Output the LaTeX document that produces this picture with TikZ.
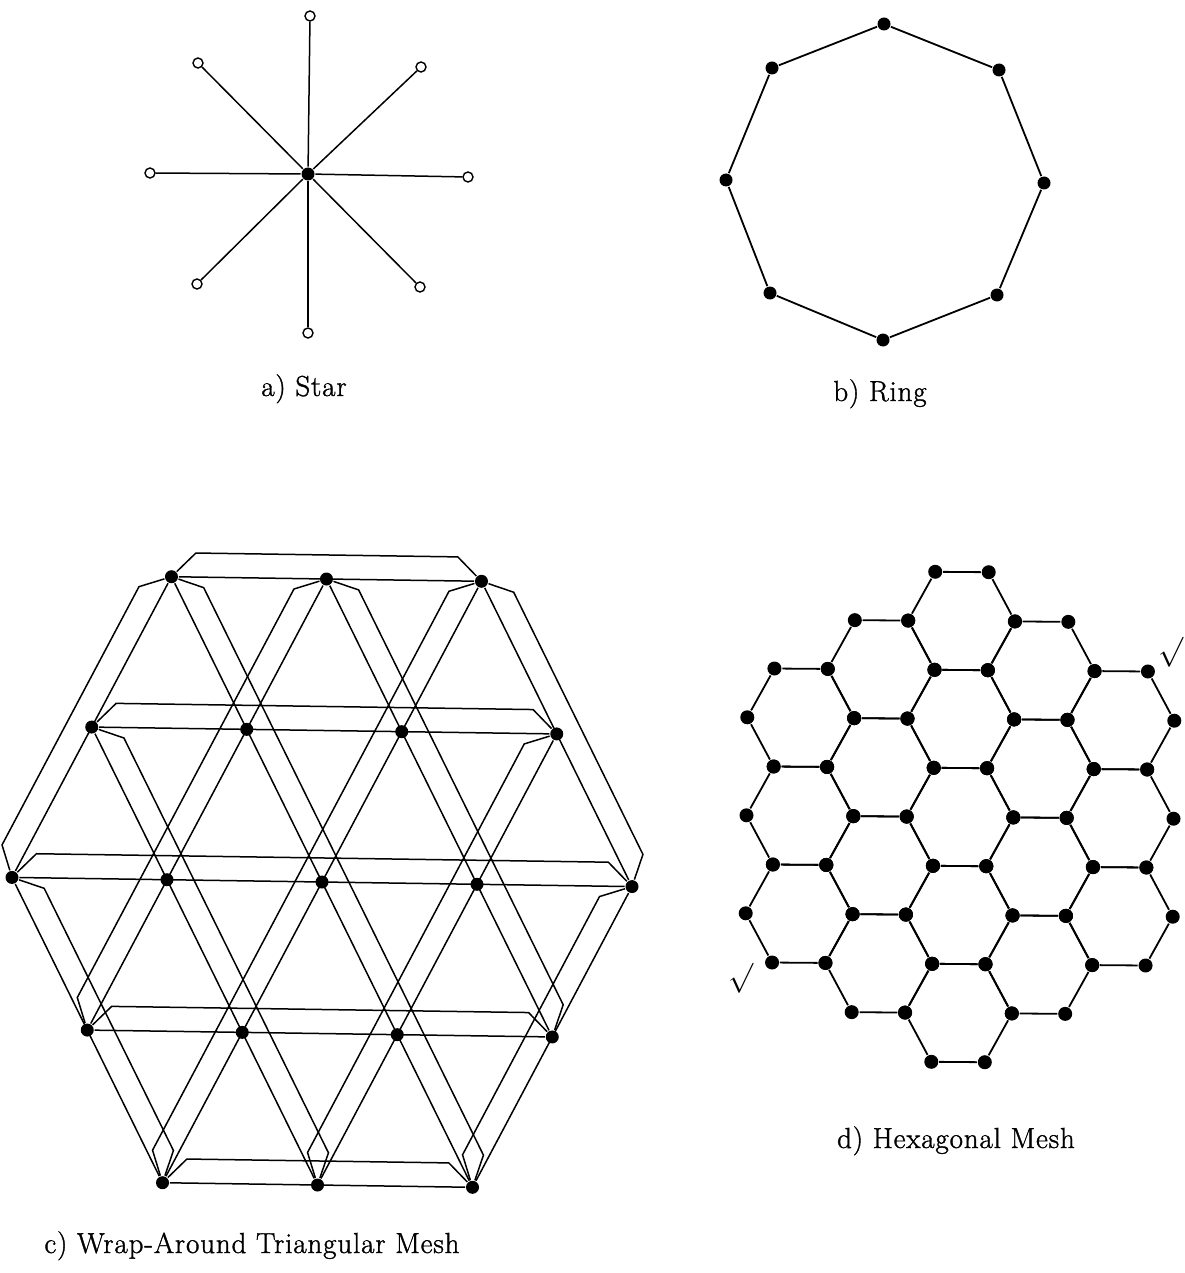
\documentclass[tikz,border=0pt]{standalone}
\usepackage{amsmath}
\usepackage{amssymb}
\usepackage{graphicx}
\usepackage{fontspec}
\usepackage{tikz}
\usetikzlibrary{calc}

\newfontfamily\capfont{Latin Modern Roman}[FakeBold=1.2,LetterSpace=3]

\tikzset{
  pe/.style={circle,fill=black,inner sep=0pt,minimum size=13pt},
  leaf/.style={circle,draw=black,fill=white,line width=1.4pt,inner sep=0pt,minimum size=10pt},
  caption/.style={font=\capfont\fontsize{29}{34}\selectfont,anchor=base},
  wrap/.style={line width=1.5pt},
}

\begin{document}
\begin{tikzpicture}[x=1pt,y=-1pt,line width=1.8pt]
    \useasboundingbox (0,0) rectangle (1184,1273);

    % a) star
    \node[pe] (s) at (308,174) {};
    \node[leaf] (s1) at (310,16) {};
    \node[leaf] (s2) at (421,67) {};
    \node[leaf] (s3) at (468,177) {};
    \node[leaf] (s4) at (420,287) {};
    \node[leaf] (s5) at (308,333) {};
    \node[leaf] (s6) at (197,284) {};
    \node[leaf] (s7) at (150,173) {};
    \node[leaf] (s8) at (198,63) {};
    \foreach \n in {1,...,8} \draw[line width=1.5pt] (s) -- (s\n);
    \node[caption] (la) at (304,396) {a) Star};

    % b) ring
    \node[pe] (r1) at (884,24) {};
    \node[pe] (r2) at (999,70) {};
    \node[pe] (r3) at (1044,183) {};
    \node[pe] (r4) at (997,295) {};
    \node[pe] (r5) at (883,340) {};
    \node[pe] (r6) at (770,293) {};
    \node[pe] (r7) at (726,180) {};
    \node[pe] (r8) at (772,68) {};
    \draw (r1) -- (r2) -- (r3) -- (r4) -- (r5) -- (r6) -- (r7) -- (r8) -- (r1);
    \node[caption] (lb) at (880,401) {b) Ring};

    % c) wrap-around triangular mesh
    \foreach \i in {0,...,4}
      \foreach \j in {0,...,4} {
        \pgfmathtruncatemacro\sm{\i+\j}
        \ifnum\sm>1 \ifnum\sm<7
          \pgfmathsetmacro\dx{155*(\i-2)+77.5*(\j-2)}
          \pgfmathsetmacro\dy{151.5*(\j-2)}
          \node[pe] (t\i\j) at ({322+\dx-0.0148*\dy},{882+\dy+0.0148*\dx}) {};
        \fi\fi
      }
    \foreach \a/\b in {20/40,11/41,02/42,03/33,04/24,
                       02/04,11/14,20/24,30/33,40/42,
                       02/20,03/30,04/40,14/41,24/42} {
      \draw[wrap] (t\a) -- (t\b);
      \draw[wrap] (t\a) -- ($(t\a)!34pt!45:(t\b)$) -- ($(t\b)!34pt!-45:(t\a)$) -- (t\b);
    }
    \node[caption] (lc) at (252,1253) {c) Wrap-Around Triangular Mesh};

    % d) hexagonal mesh
    \foreach \q in {0,...,4} {
      \pgfmathtruncatemacro\nn{4-abs(\q-2)}
      \foreach \j in {0,...,\nn} {
        \pgfmathsetmacro\cx{960+80*(\q-2)}
        \pgfmathsetmacro\cy{817+49*(2*\j-\nn)}
        \foreach \w/\ox/\oy in {1/-53.5/0,2/-26.75/-49,3/26.75/-49,
                                4/53.5/0,5/26.75/49,6/-26.75/49}
          \node[pe,minimum size=14pt] (h\q\j\w)
            at ({\cx+\ox-0.008*(\cy+\oy-817)},{\cy+\oy+0.008*(\cx+\ox-960)}) {};
        \draw (h\q\j1) -- (h\q\j2) -- (h\q\j3) -- (h\q\j4) -- (h\q\j5) -- (h\q\j6) -- (h\q\j1);
      }
    }
    \node (ck1) at (1171,652) {\scalebox{3}{$\surd$}};
    \node (ck2) at (741,978) {\scalebox{3}{$\surd$}};
    \node[caption] (ld) at (956,1148) {d) Hexagonal Mesh};
\end{tikzpicture}
\end{document}
